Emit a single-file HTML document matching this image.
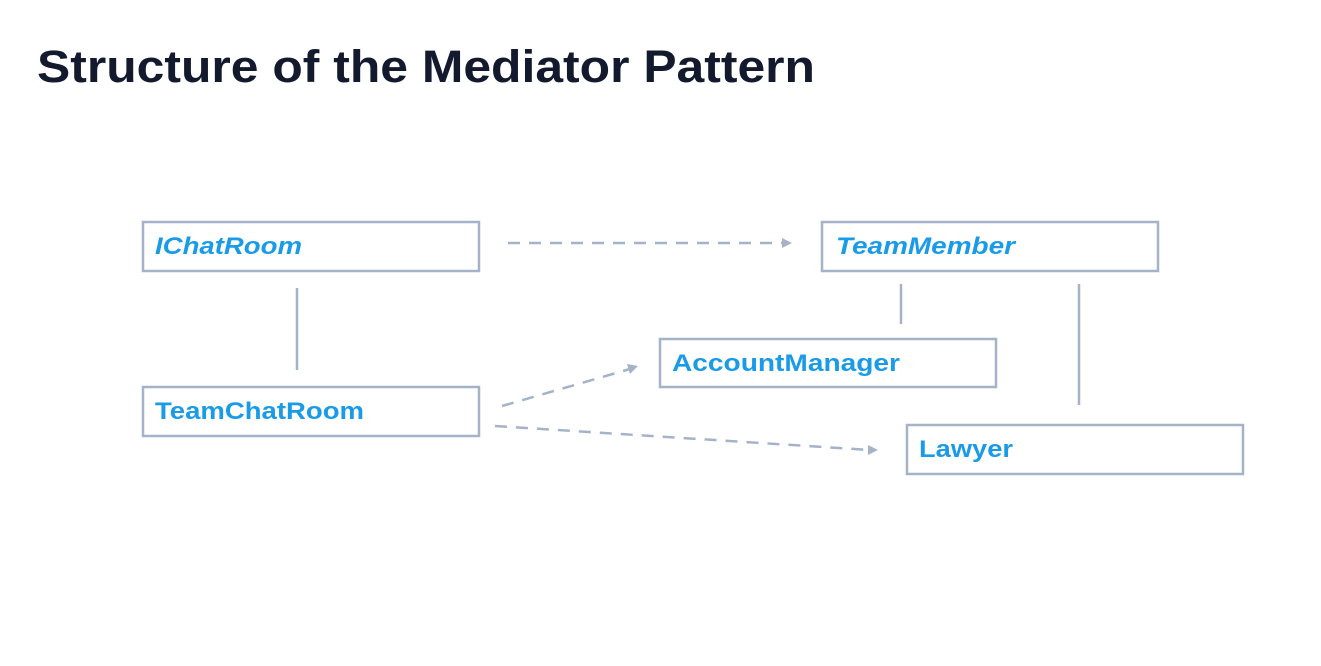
<!DOCTYPE html>
<html><head><style>
html,body{margin:0;padding:0;background:#fff;}
svg{display:block;}
</style></head><body>
<svg width="1321" height="666" viewBox="0 0 1321 666" xmlns="http://www.w3.org/2000/svg">
<rect width="1321" height="666" fill="#fff"/>
<text x="37" y="82" font-family="Liberation Sans, sans-serif" font-weight="bold" font-size="45" fill="#141a2e" textLength="778" lengthAdjust="spacingAndGlyphs">Structure of the Mediator Pattern</text>
<g fill="#fff" stroke="#a5b3c9" stroke-width="2.5">
<rect x="143" y="222" width="336" height="49"/>
<rect x="143" y="387" width="336" height="49"/>
<rect x="822" y="222" width="336" height="49"/>
<rect x="660" y="339" width="336" height="48"/>
<rect x="907" y="425" width="336" height="49"/>
</g>
<g stroke="#a5b3c9" stroke-width="2.5">
<line x1="297" y1="288" x2="297" y2="370"/>
<line x1="901" y1="284" x2="901" y2="324"/>
<line x1="1079" y1="284" x2="1079" y2="405"/>
</g>
<g stroke="#a5b3c9" stroke-width="2.5" stroke-dasharray="12,9" fill="none">
<line x1="508" y1="243" x2="784" y2="243"/>
<line x1="502" y1="406" x2="630" y2="369"/>
<line x1="495" y1="426" x2="870" y2="450"/>
</g>
<g fill="#a5b3c9">
<polygon points="792,243 782,238 782,248"/>
<polygon points="638,366 627,364 630,374"/>
<polygon points="878,450 868,445 868,455"/>
</g>
<g font-family="Liberation Sans, sans-serif" font-weight="bold" font-size="24" fill="#1a9be8" lengthAdjust="spacingAndGlyphs">
<text x="155" y="254" font-style="italic" textLength="147" lengthAdjust="spacingAndGlyphs">IChatRoom</text>
<text x="155" y="419" textLength="209" lengthAdjust="spacingAndGlyphs">TeamChatRoom</text>
<text x="836" y="254" font-style="italic" textLength="179" lengthAdjust="spacingAndGlyphs">TeamMember</text>
<text x="672" y="371" textLength="228" lengthAdjust="spacingAndGlyphs">AccountManager</text>
<text x="919" y="457" textLength="94" lengthAdjust="spacingAndGlyphs">Lawyer</text>
</g>
</svg>
</body></html>
